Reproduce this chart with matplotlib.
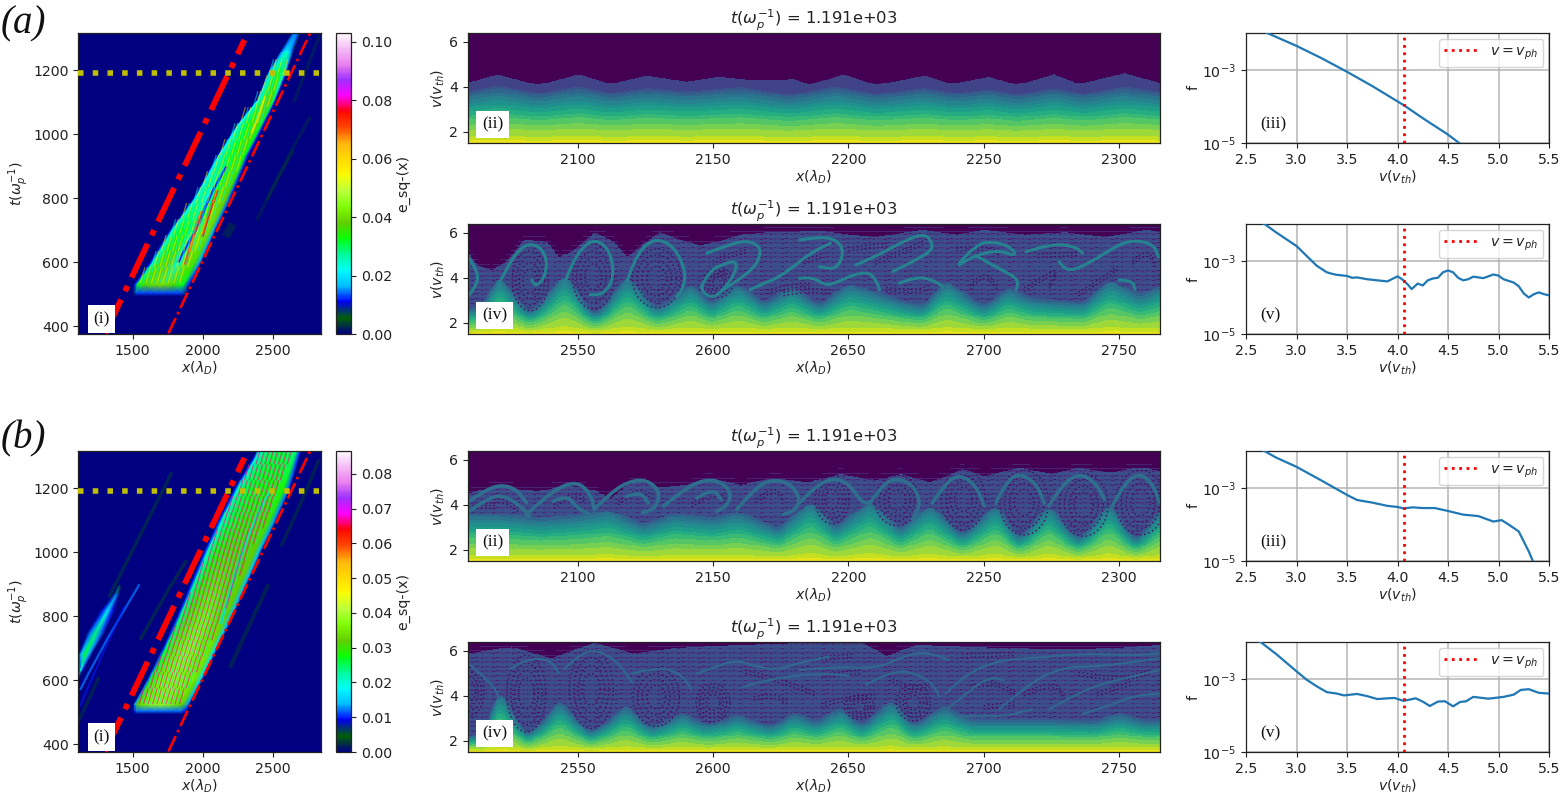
import numpy as np
import matplotlib
matplotlib.use("Agg")
import matplotlib.pyplot as plt
from matplotlib.cm import ScalarMappable
from matplotlib.collections import LineCollection
from matplotlib.colors import Normalize
from matplotlib.patches import Arc, PathPatch
from matplotlib.path import Path

W, H = 1559, 794

# ---- velocity distributions: log10(f) against v ----
a3_v = [2.5, 2.72, 3.0, 3.25, 3.5, 3.75, 4.0, 4.06, 4.25, 4.5, 4.61, 4.7]
a3_logf = [-1.7, -2.0, -2.34, -2.68, -3.05, -3.44, -3.86, -3.96, -4.32, -4.77, -5.0, -5.2]
a5_v = [2.5, 2.69, 2.8, 3.0, 3.1, 3.2, 3.3, 3.35, 3.4, 3.5, 3.55, 3.6, 3.7, 3.8, 3.9, 3.95, 4.0, 4.05, 4.1,
        4.14, 4.2, 4.25, 4.3, 4.35, 4.4, 4.45, 4.5, 4.55, 4.6, 4.65, 4.7, 4.75, 4.85, 4.95, 5.0, 5.05, 5.15,
        5.2, 5.25, 5.3, 5.35, 5.4, 5.45, 5.5]
a5_logf = [-1.75, -2.0, -2.22, -2.59, -2.86, -3.13, -3.31, -3.35, -3.38, -3.41, -3.46, -3.45, -3.5, -3.53,
           -3.56, -3.49, -3.42, -3.51, -3.64, -3.77, -3.62, -3.67, -3.53, -3.48, -3.46, -3.31, -3.26, -3.31,
           -3.46, -3.53, -3.5, -3.43, -3.47, -3.37, -3.4, -3.5, -3.59, -3.69, -3.89, -4.0, -3.91, -3.86,
           -3.91, -3.94]
b3_v = [2.5, 2.69, 2.8, 3.0, 3.25, 3.5, 3.6, 3.75, 3.9, 4.0, 4.06, 4.15, 4.25, 4.37, 4.5, 4.65, 4.8, 4.95,
        5.03, 5.1, 5.2, 5.3, 5.34, 5.4]
b3_logf = [-1.75, -2.0, -2.17, -2.42, -2.8, -3.19, -3.33, -3.4, -3.49, -3.52, -3.56, -3.53, -3.55, -3.55,
           -3.63, -3.73, -3.77, -3.92, -3.88, -4.0, -4.19, -4.74, -5.0, -5.5]
b5_v = [2.5, 2.65, 2.8, 3.0, 3.1, 3.2, 3.3, 3.4, 3.47, 3.6, 3.7, 3.8, 3.9, 3.97, 4.06, 4.18, 4.25, 4.32,
        4.4, 4.47, 4.55, 4.62, 4.68, 4.75, 4.9, 5.05, 5.15, 5.22, 5.3, 5.4, 5.5]
b5_logf = [-1.8, -2.0, -2.32, -2.79, -3.02, -3.2, -3.36, -3.4, -3.45, -3.41, -3.47, -3.55, -3.53, -3.52,
           -3.6, -3.53, -3.62, -3.74, -3.62, -3.61, -3.75, -3.63, -3.61, -3.49, -3.54, -3.49, -3.43, -3.3,
           -3.28, -3.38, -3.4]
v_phase = 4.06

# ---- phase-space panels: lower edge of the trapped region and upper edge of the populated region ----
a2_floor_x = [2059, 2070, 2085, 2100, 2112, 2125, 2140, 2160, 2178, 2195, 2210, 2228, 2240, 2252, 2262, 2276, 2287, 2302, 2315]
a2_floor_v = [3.55, 3.72, 3.5, 3.7, 3.5, 3.65, 3.55, 3.68, 3.45, 3.7, 3.48, 3.65, 3.5, 3.62, 3.45, 3.65, 3.48, 3.7, 3.55]
a2_top_x = [2059, 2070, 2085, 2100, 2112, 2125, 2140, 2152, 2165, 2180, 2185, 2198, 2210, 2228, 2238, 2252, 2262, 2276, 2285, 2302, 2315]
a2_top_v = [4.2, 4.55, 4.1, 4.55, 4.15, 4.5, 4.25, 4.45, 4.3, 4.35, 4.1, 4.55, 4.1, 4.5, 4.15, 4.45, 4.1, 4.55, 4.15, 4.6, 4.2]

a4_floor_x = [2509, 2513, 2520.7, 2532, 2545, 2556, 2568, 2579, 2591.5, 2599, 2609, 2618.6, 2629, 2639, 2650, 2660, 2677, 2686, 2700, 2709, 2717, 2737, 2746.5, 2757.6, 2765]
a4_floor_v = [2.65, 2.7, 3.9, 2.5, 4.0, 2.4, 3.9, 2.7, 3.6, 2.95, 3.6, 2.95, 3.5, 2.87, 3.6, 3.3, 2.8, 3.7, 2.8, 3.45, 3.1, 2.95, 3.75, 3.2, 3.5]
a4_top_x = [2509, 2513, 2518, 2524, 2530, 2538, 2543, 2548, 2556, 2563, 2568, 2574, 2580, 2590, 2595, 2610, 2620, 2640, 2650, 2660, 2677, 2690, 2700, 2715, 2730, 2745, 2760, 2765]
a4_top_v = [5.1, 4.5, 4.3, 4.8, 5.7, 5.6, 4.9, 5.2, 6.0, 5.6, 4.9, 5.5, 6.0, 5.6, 5.4, 5.9, 6.0, 6.05, 5.9, 5.8, 6.1, 5.9, 6.1, 5.9, 6.0, 5.8, 6.1, 6.0]

b2_floor_x = [2059, 2070, 2086, 2100, 2111, 2124, 2135, 2150, 2159, 2174, 2186, 2195, 2208, 2219, 2230, 2242, 2254.6, 2263, 2274, 2285, 2296.5, 2306, 2315]
b2_floor_v = [3.5, 3.5, 3.35, 3.45, 3.65, 3.13, 3.5, 3.35, 3.57, 3.0, 4.0, 3.05, 4.0, 2.98, 3.87, 2.76, 3.87, 2.6, 3.87, 2.53, 3.94, 2.5, 3.65]
b2_top_x = [2059, 2070, 2085, 2095, 2105, 2112, 2120, 2130, 2140, 2148, 2160, 2172, 2185, 2197, 2210, 2219, 2230, 2242, 2250, 2263, 2275, 2285, 2297, 2308, 2315]
b2_top_v = [4.5, 4.85, 4.6, 4.9, 4.7, 4.3, 5.1, 4.8, 4.9, 5.2, 4.9, 5.2, 5.0, 5.4, 5.1, 5.4, 5.0, 5.6, 5.3, 5.65, 5.4, 5.65, 5.45, 5.7, 5.5]

b4_floor_x = [2509, 2514, 2520.7, 2531, 2543, 2554.6, 2567.5, 2577, 2588.4, 2597.7, 2609, 2621, 2629.6, 2638, 2647, 2654.7, 2665.8, 2674, 2685, 2695, 2708, 2724.6, 2740.3, 2750, 2761, 2765]
b4_floor_v = [2.2, 2.34, 4.1, 2.3, 3.67, 2.42, 3.5, 2.64, 3.23, 2.79, 3.16, 2.7, 3.23, 2.93, 3.4, 2.79, 3.67, 2.79, 3.45, 3.0, 3.0, 3.0, 2.93, 3.2, 2.93, 3.0]
b4_top_x = [2509, 2525, 2540, 2556, 2570, 2590, 2610, 2640, 2655, 2664, 2675, 2700, 2720, 2740, 2765]
b4_top_v = [5.9, 6.2, 5.7, 6.4, 5.9, 6.2, 6.3, 6.4, 6.4, 5.8, 6.3, 6.2, 6.1, 6.1, 6.3]

# ---- bright filaments in phase space, as (x, v) vertices ----
a4_filaments = [
    [(2509.3, 4.95), (2512, 4.5), (2513.3, 3.98), (2511.4, 3.47), (2509.3, 3.17)],
    [(2520.7, 3.69), (2524.4, 4.58), (2528.1, 5.24), (2532.4, 5.54), (2536.7, 5.32), (2538.8, 4.65), (2537.3, 3.91), (2534.2, 3.62), (2533, 3.91)],
    [(2545.3, 3.84), (2548.4, 4.8), (2552.7, 5.47), (2556.4, 5.69), (2560.7, 5.39), (2563.2, 4.58), (2562.6, 3.76), (2558.9, 3.25), (2554.6, 3.25)],
    [(2568.1, 3.84), (2571.2, 4.87), (2575.5, 5.54), (2580.4, 5.73), (2586, 5.32), (2589.7, 4.36), (2589.3, 3.62), (2586.6, 3.17)],
    [(2595.8, 3.62), (2598.3, 4.28), (2603.8, 4.62), (2608.8, 4.77), (2608.2, 4.21), (2603.8, 3.47), (2600.1, 3.1), (2596.4, 3.32), (2595.8, 3.62)],
    [(2597.7, 5.1), (2603.8, 5.39), (2612.5, 5.69), (2617.4, 5.39), (2617.4, 4.95), (2614.9, 4.43), (2609.4, 3.91), (2603.8, 3.47)],
    [(2613.7, 3.47), (2617.4, 3.69), (2623.6, 3.98), (2629.7, 4.5), (2635.9, 5.1), (2643.3, 5.54)],
    [(2632, 5.69), (2639.3, 5.84), (2646, 5.69), (2648.5, 5.1), (2645.4, 4.36), (2639.3, 4.5)],
    [(2652.8, 4.58), (2660.2, 4.95), (2668.8, 5.54), (2677.5, 5.98), (2680.6, 5.69), (2681.2, 5.24), (2675, 4.8), (2666.4, 4.28)],
    [(2632, 3.98), (2636.8, 4.06), (2641.7, 3.62), (2647.9, 3.91), (2651.6, 4.13), (2657.8, 4.28), (2660.8, 3.76), (2661.5, 3.47)],
    [(2668.8, 3.76), (2675, 4.06), (2681.2, 3.91), (2684.9, 3.62)],
    [(2691, 4.65), (2697.2, 5.54), (2704.6, 5.61), (2710.7, 5.32), (2712, 4.95), (2705.8, 5.24), (2697.2, 5.02), (2691, 4.58)],
    [(2697, 5.0), (2702, 4.65), (2708, 4.28), (2713, 3.91), (2712, 3.47)],
    [(2715.7, 5.17), (2725.5, 5.54), (2734, 5.39), (2736.6, 5.1)],
    [(2728, 4.72), (2730.4, 4.21), (2739, 4.65), (2746.5, 5.24), (2753.9, 5.69), (2762.5, 5.54), (2764.7, 4.95)],
    [(2750, 3.9), (2755, 3.9), (2756, 3.47)],
]
b2_filaments = [
    [(2059, 4.1), (2066, 4.68), (2072, 4.9), (2077.5, 4.68), (2081, 4.1)],
    [(2059, 3.65), (2066, 4.24), (2072, 4.46), (2079, 3.94), (2082, 3.5)],
    [(2081, 3.57), (2087, 4.24), (2094.7, 4.9), (2101, 4.98), (2105, 4.38), (2106, 3.87)],
    [(2091, 4.16), (2096, 4.46), (2099.6, 3.87), (2104.5, 3.57)],
    [(2106, 3.79), (2112, 4.53), (2119, 5.05), (2125.5, 5.12), (2130.4, 4.6), (2129, 3.87), (2124, 3.64)],
    [(2118, 4.38), (2123, 4.6), (2126, 4.09)],
    [(2131.7, 3.94), (2139, 4.68), (2146.5, 5.12), (2152.6, 5.05), (2157, 4.53), (2155, 3.94), (2151.4, 3.72)],
    [(2144, 4.3), (2150, 4.75), (2153, 4.24)],
    [(2158.8, 3.8), (2165, 4.68), (2171, 5.12), (2178, 5.0), (2182, 4.38), (2181, 3.8), (2176, 3.57)],
    [(2182, 4.09), (2187, 4.75), (2194, 5.2), (2200, 4.98), (2205, 4.1), (2208, 4.1)],
    [(2208, 4.09), (2212.7, 4.9), (2217.6, 5.2), (2223.8, 4.9), (2226.9, 4.09), (2223.8, 3.35)],
    [(2231, 4.09), (2236, 4.98), (2241, 5.35), (2247, 4.9), (2250.3, 3.94)],
    [(2254.6, 4.09), (2258, 4.98), (2263, 5.42), (2269.4, 4.98), (2272.4, 4.09)],
    [(2274, 3.94), (2279, 4.9), (2285.4, 5.42), (2291.5, 4.98), (2294.6, 4.24)],
    [(2297, 3.8), (2300.8, 4.75), (2307, 5.45), (2312.5, 4.98), (2315, 4.09)],
]
b4_filaments = [
    [(2525, 5.2), (2532, 5.7), (2540, 5.6), (2543, 5.0)],
    [(2545, 5.2), (2552, 6.0), (2558, 6.0), (2565, 5.5), (2570, 4.6)],
    [(2570, 5.0), (2580, 5.3), (2588, 5.0), (2592, 4.3)],
    [(2594, 5.0), (2601, 5.3), (2609, 5.6), (2616, 5.3), (2624, 5.16), (2631, 5.45), (2643, 5.75)],
    [(2632, 5.15), (2644, 5.3), (2660, 5.23), (2667.6, 5.6), (2673.8, 5.9), (2681, 5.9), (2687, 5.6)],
    [(2686, 4.1), (2693.5, 5.0), (2706, 5.6), (2718, 5.67), (2736.6, 5.9), (2755, 5.8), (2765, 5.9)],
    [(2656.5, 4.5), (2666.4, 5.15), (2675, 5.0), (2681, 4.56), (2683.6, 3.97)],
    [(2705.8, 3.4), (2718, 4.7), (2730.5, 5.3), (2742.8, 5.3), (2765, 5.67)],
    [(2724.3, 3.4), (2736.6, 4.27), (2749, 4.7), (2765, 5.15)],
    [(2736.6, 3.2), (2745.2, 3.5), (2755, 4.0), (2765, 4.1)],
    [(2686.6, 3.4), (2695, 4.27), (2702.4, 4.85), (2707.3, 4.7)],
    [(2690, 3.1), (2700, 3.1), (2708, 3.1), (2717.7, 3.4)],
    [(2509, 5.5), (2514, 5.0), (2519, 4.4), (2521, 3.9)],
    [(2611, 4.4), (2622, 4.8), (2640, 5.0), (2650, 4.9)],
]

# ---- trapped-particle vortices: centre x, centre v, half-width, half-height ----
a4_vortices = [(2532.4, 3.87, 7.4, 1.48), (2555.8, 4.05, 8.6, 1.6), (2579.2, 3.98, 10, 1.45), (2602, 3.8, 6, 0.75)]
b2_vortices = [(2194, 4.24, 7, 1.2), (2218, 4.2, 9, 1.25), (2242.5, 4.25, 9, 1.5), (2265, 4.1, 10, 1.6), (2287, 4.0, 10, 1.55), (2308, 4.1, 10, 1.6)]
b4_vortices = [(2510, 4.2, 6, 1.2), (2531, 4.1, 8, 1.9), (2555, 4.3, 9, 1.95), (2579, 3.95, 9.5, 1.45), (2600, 3.7, 7, 0.95),
               (2674, 3.7, 7, 0.9), (2654, 3.5, 6, 0.6)]

# ---- depleted streaks inside the trapped region, as (x, v) vertices ----
a4_holes = [
    [(2600, 3.9), (2605, 4.25)], [(2612, 5.1), (2604, 4.9), (2600, 4.6)], [(2620, 3.3), (2630, 3.6), (2636, 3.6)],
    [(2650, 5.2), (2665, 5.4)], [(2660, 4.6), (2672, 5.2), (2678, 5.5)], [(2664, 3.4), (2675, 3.3), (2680, 3.5)],
    [(2695, 3.5), (2700, 4.2), (2705, 3.5)], [(2715, 3.4), (2722, 3.9), (2728, 4.3), (2724, 3.5)],
    [(2735, 3.2), (2742, 3.7), (2750, 4.4)], [(2755, 4.6), (2760, 5.2), (2764, 4.4)], [(2720, 4.9), (2735, 5.0)],
    [(2640, 4.9), (2633, 4.6)], [(2690, 5.2), (2700, 5.3), (2706, 5.0)], [(2626, 3.2), (2634, 3.4), (2644, 3.3)],
]
b2_holes = [
    [(2066, 4.05), (2072, 4.2), (2078, 3.7)], [(2091, 3.85), (2098, 4.5), (2103, 4.1)], [(2115, 4.0), (2121, 4.6), (2128, 4.3)],
    [(2142, 3.9), (2149, 4.5), (2155, 4.15)], [(2166, 4.1), (2172, 4.7), (2176, 4.2)], [(2061, 3.85), (2070, 3.85)],
]
b4_holes = [
    [(2612, 5.0), (2625, 4.6), (2638, 4.0)], [(2615, 3.8), (2622, 4.0), (2628, 3.6)], [(2640, 4.8), (2655, 5.0)],
    [(2665, 4.7), (2672, 4.2), (2680, 4.4)], [(2695, 4.3), (2703, 4.6), (2712, 4.0)], [(2715, 4.0), (2726, 4.6), (2730, 3.8)],
    [(2735, 4.9), (2750, 4.6), (2762, 5.0)], [(2742, 4.0), (2755, 4.5)], [(2640, 3.5), (2648, 3.8), (2660, 3.9)],
    [(2700, 3.4), (2712, 3.6)], [(2640, 5.6), (2652, 5.7)], [(2692, 5.7), (2712, 5.8)],
]

# level of the distribution on the unperturbed velocity axis
profile_v = [1.5, 1.7, 2.0, 2.5, 3.0, 3.4, 3.85, 4.5]
profile_level = [0.97, 0.90, 0.84, 0.72, 0.56, 0.42, 0.25, 0.2]
# grid-scale striping of the sparsely sampled trapped population
interior_tile = [
    [.25, .25, .25, .25, .25, .25, .25, .25, .25, .25, .25, .25, .25, .25],
    [.24, .24, .24, .22, .22, .24, .24, .24, .24, .24, .21, .24, .24, .24],
    [.21, .21, .09, .09, .21, .21, .21, .21, .21, .09, .21, .21, .21, .21],
    [.18, .18, .18, .18, .18, .08, .08, .18, .18, .18, .18, .18, .08, .18],
    [.24, .24, .24, .24, .24, .24, .24, .24, .24, .24, .24, .24, .24, .24],
]

# ---- energy maps: outer edges of the wave packet and its level across the packet ----
pkt_frac = [0, 0.025, 0.07, 0.2, 0.4, 0.55, 0.7, 0.88, 0.97, 1]
a_t = [495, 505, 530, 600, 700, 800, 930, 1029, 1107, 1196, 1260, 1316]
a_left = [1500, 1500, 1505, 1620, 1760, 1930, 2095, 2240, 2386, 2469, 2560, 2640]
a_right = [1885, 1890, 1910, 1990, 2090, 2200, 2325, 2440, 2525, 2605, 2650, 2695]
a_level = [
    [0, 0, 0, 0, 0, 0, 0, 0, 0, 0],
    [0, .008, .013, .013, .013, .013, .013, .013, .008, 0],
    [0, .012, .032, .037, .040, .040, .037, .032, .012, 0],
    [0, .012, .026, .036, .038, .024, .040, .036, .016, 0],
    [0, .010, .024, .032, .032, .026, .042, .040, .016, 0],
    [0, .010, .022, .028, .022, .032, .040, .038, .014, 0],
    [0, .010, .022, .028, .032, .034, .036, .032, .012, 0],
    [0, .010, .022, .028, .032, .034, .038, .032, .012, 0],
    [0, .010, .022, .028, .036, .038, .038, .030, .012, 0],
    [0, .010, .018, .026, .030, .032, .032, .022, .010, 0],
    [0, .008, .014, .018, .022, .022, .018, .014, .008, 0],
    [0, .007, .010, .013, .014, .014, .013, .010, .007, 0],
]
b_t = [495, 505, 525, 600, 700, 800, 900, 1000, 1100, 1200, 1316]
b_left = [1500, 1500, 1505, 1600, 1710, 1814, 1910, 2005, 2110, 2225, 2386]
b_right = [1885, 1890, 1905, 1995, 2105, 2215, 2315, 2415, 2525, 2625, 2705]
b_level = [
    [0, 0, 0, 0, 0, 0, 0, 0, 0, 0],
    [0, .009, .012, .012, .012, .012, .012, .012, .009, 0],
    [0, .013, .032, .036, .038, .038, .036, .032, .013, 0],
    [0, .012, .030, .036, .038, .038, .037, .034, .016, 0],
    [0, .010, .026, .034, .038, .039, .036, .034, .016, 0],
    [0, .010, .024, .032, .036, .037, .034, .032, .014, 0],
    [0, .010, .022, .030, .034, .034, .032, .032, .014, 0],
    [0, .010, .020, .028, .032, .032, .032, .032, .014, 0],
    [0, .010, .020, .026, .030, .030, .032, .030, .013, 0],
    [0, .010, .020, .026, .028, .028, .030, .028, .012, 0],
    [0, .010, .018, .024, .026, .026, .026, .024, .010, 0],
]
# detached packet at the left edge of map (b)
b2_t = [610, 630, 680, 750, 820, 870, 895]
b2_left = [1111, 1111, 1111, 1175, 1270, 1360, 1395]
b2_right = [1118, 1145, 1205, 1300, 1375, 1410, 1415]
b2_frac = [0, 0.2, 0.5, 0.8, 1]
b2_level = [
    [0, .005, .008, .005, 0],
    [0, .010, .020, .010, 0],
    [0, .014, .026, .014, 0],
    [0, .012, .024, .012, 0],
    [0, .010, .018, .010, 0],
    [0, .007, .012, .007, 0],
    [0, .003, .005, .003, 0],
]
# streaks of the energy maps: (level, width, opacity, (x, t) vertices)
a_streaks = [
    (.012, 1.8, .9, [(1826, 600), (1880, 650), (1957, 700), (2040, 800), (2170, 900)]),
    (.072, 2.0, .8, [(1874, 593), (1910, 645), (1957, 718), (1993, 760)]),
    (.076, 2.0, .8, [(1998, 680), (2045, 753), (2105, 826)]),
    (.058, 1.6, .7, [(2350, 1003), (2400, 1060), (2445, 1118)]),
    (.004, 2.5, .35, [(2386, 731), (2520, 850), (2648, 951)]),
    (.004, 2.5, .35, [(2457, 795), (2610, 930), (2767, 1055)]),
    (.004, 2.5, .35, [(2650, 1100), (2760, 1225), (2835, 1310)]),
    (.004, 6.0, .45, [(2165, 680), (2215, 720)]),
]
b_streaks = [
    (.016, 1.6, .8, [(2130, 775), (2250, 970), (2400, 1130), (2480, 1190)]),
    (.012, 1.6, .8, [(1124, 570), (1243, 675), (1548, 900)]),
    (.010, 1.4, .6, [(1124, 520), (1280, 680), (1440, 830)]),
    (.005, 2.5, .4, [(1552, 726), (1720, 860), (1886, 976)]),
    (.005, 2.5, .4, [(1330, 860), (1560, 1060), (1780, 1250)]),
    (.004, 3.0, .4, [(2195, 640), (2330, 770), (2470, 900)]),
    (.004, 2.5, .4, [(2560, 1020), (2700, 1150), (2830, 1290)]),
    (.004, 2.5, .4, [(1111, 470), (1260, 610)]),
]
# rows of the fine herring-bone texture inside each packet
a_texture_rows = [535, 585, 635, 685, 735, 785, 835, 885, 935, 985, 1035, 1085, 1135, 1185]
b_texture_rows = [525, 575, 625, 675, 725, 775, 825, 875, 925, 975, 1025, 1075, 1125, 1175, 1225, 1275]

tick_v = [2, 4, 6]
tick_t = [400, 600, 800, 1000, 1200]
tick_x_map = [1500, 2000, 2500]
tick_v_dist = [2.5, 3.0, 3.5, 4.0, 4.5, 5.0, 5.5]
t_slice = 1191
title_text = r"$t(\omega_p^{-1})$ = 1.191e+03"

plt.rcParams.update({"font.family": "DejaVu Sans", "font.size": 10.2, "mathtext.fontset": "dejavusans",
                     "axes.linewidth": 0.9, "axes.edgecolor": "#222222",
                     "xtick.color": "#222222", "ytick.color": "#222222", "text.color": "#222222",
                     "axes.labelcolor": "#222222"})
fig = plt.figure(figsize=(W / 100, H / 100), dpi=100, facecolor="white")


def place(x0, x1, y0, y1):
    return fig.add_axes([x0 / W, 1 - y1 / H, (x1 - x0) / W, (y1 - y0) / H])


def curve(pts):
    """Smooth open curve through the midpoints of a vertex list."""
    pts = np.asarray(pts, float)
    verts = [pts[0]]
    codes = [Path.MOVETO]
    for i in range(1, len(pts) - 1):
        verts += [pts[i], (pts[i] + pts[i + 1]) / 2]
        codes += [Path.CURVE3, Path.CURVE3]
    verts.append(pts[-1])
    codes.append(Path.LINETO)
    return Path(verts, codes)


def phase_panel(ax, xlim, fx, fv, tx, tv, filaments, vortices, holes, label, striped=True, fil_level=0.44, fil_lw=2.2):
    xs = np.linspace(xlim[0], xlim[1], 470)
    vs = np.linspace(1.5, 6.4, 120)
    raw = np.interp(xs, fx, fv)
    kernel = np.ones(7) / 7
    floor = np.convolve(raw, kernel, mode="same")
    floor[:3] = raw[:3]
    floor[-3:] = raw[-3:]
    top = np.interp(xs, tx, tv)
    tile = np.asarray(interior_tile)
    field = np.zeros((vs.size, xs.size))
    for j in range(xs.size):
        eff = floor[j] + 0.5 * max(0.0, floor[j] - 3.0)
        v_eff = 1.5 + (vs - 1.5) * 2.35 / (eff - 1.5)
        col = np.interp(v_eff, profile_v, profile_level)
        # contour bands of the distribution
        col = np.where(col > 0.26, np.floor(col * 17) / 17 + 0.03, 0.0)
        if striped:
            col[vs > floor[j] + 0.1] = 0.0
        inner = col == 0.0
        below_top = vs <= top[j]
        if striped:
            stripes = tile[np.arange(vs.size) % tile.shape[0], j % tile.shape[1]]
        else:
            stripes = np.full(vs.size, 0.2)
        col = np.where(inner & below_top, stripes, col)
        if striped:
            # faint grid-scale rows just above the populated edge
            fringe = inner & ~below_top & (vs <= top[j] + 0.25)
            col = np.where(fringe & (np.arange(vs.size) % 5 == 0), 0.1, col)
        field[:, j] = col
    ax.imshow(field, origin="lower", aspect="auto", extent=(xlim[0], xlim[1], 1.5, 6.4),
              cmap="viridis", vmin=0, vmax=1, interpolation="nearest")
    cm = plt.get_cmap("viridis")
    for cx, cv, rx, rv in vortices:
        for scale in (0.9, 0.72, 0.54, 0.36):
            ax.add_patch(Arc((cx, cv), 2 * rx * scale, 2 * rv * scale, lw=1.0, ec=cm(0.03),
                             ls=(0, (1.2, 1.9)), alpha=0.9))
    for pts in holes:
        for shift in (0.0, 0.16):
            shifted = np.asarray(pts, float) + [0, shift]
            ax.add_patch(PathPatch(curve(shifted), fc="none", ec=cm(0.03), lw=1.0, ls=(0, (1.2, 1.8)), alpha=0.9))
    for pts in filaments:
        ax.add_patch(PathPatch(curve(pts), fc="none", ec=cm(fil_level), lw=fil_lw, capstyle="round", joinstyle="round"))
    ax.set_xlim(*xlim)
    ax.set_ylim(1.5, 6.4)
    ax.set_yticks(tick_v)
    ax.set_xlabel(r"$x(\lambda_D)$", labelpad=1.5)
    ax.set_ylabel(r"$v(v_{th})$", labelpad=1.5)
    ax.set_title(title_text, fontsize=11.8, pad=4)
    ax.text(0.0205, 0.17, label, transform=ax.transAxes, family="Liberation Serif", fontsize=12.5,
            ha="left", va="center", color="#111111",
            bbox=dict(boxstyle="square,pad=0.32", fc="white", ec="none"))


def packet(ax, norm, cmap, ts, left, right, frac, level):
    ts = np.asarray(ts, float)
    left, right, frac = np.asarray(left, float), np.asarray(right, float), np.asarray(frac, float)
    X = left[:, None] + (right - left)[:, None] * frac[None, :]
    T = np.repeat(ts[:, None], frac.size, axis=1)
    ax.pcolormesh(X, T, np.asarray(level, float), shading="gouraud", cmap=cmap, norm=norm, rasterized=True)


def texture(ax, norm, cmap, rows, ts, left, right, hi, lo, alpha, step):
    segments, colors = [], []
    for k, t0 in enumerate(rows):
        l0 = np.interp(t0, ts, left)
        r0 = np.interp(t0, ts, right)
        for n, x0 in enumerate(np.arange(l0 + 0.1 * (r0 - l0), r0 - 0.16 * (r0 - l0), step)):
            segments.append([(x0, t0), (x0 + 34, t0 + 50)])
            colors.append(cmap(norm(hi if (n + k) % 2 == 0 else lo)))
    ax.add_collection(LineCollection(segments, colors=colors, linewidths=0.9, alpha=alpha, capstyle="butt"))


def streaks(ax, norm, cmap, table):
    for level, width, opacity, pts in table:
        ax.add_patch(PathPatch(curve(pts), fc="none", ec=cmap(norm(level)), lw=width, alpha=opacity))


def map_panel(ax, cax, vmax, cbar_ticks, draw):
    cmap = plt.get_cmap("gist_ncar")
    norm = Normalize(0, vmax)
    ax.set_facecolor(cmap(0.0))
    draw(ax, norm, cmap)
    ax.plot([1302, 2298], [378, 1295], color="red", lw=4.2, ls="-.", zorder=5)
    ax.plot([1755, 2767], [378, 1316], color="red", lw=1.9, ls="-.", zorder=5)
    ax.plot([1111, 2830], [t_slice, t_slice], color="y", lw=4, ls=":", zorder=6)
    ax.set_xlim(1111, 2845)
    ax.set_ylim(376, 1316.6)
    ax.set_xticks(tick_x_map)
    ax.set_yticks(tick_t)
    ax.set_xlabel(r"$x(\lambda_D)$", labelpad=1.5)
    ax.set_ylabel(r"$t(\omega_p^{-1})$", labelpad=1.5)
    ax.text(0.095, 0.05, "(i)", transform=ax.transAxes, family="Liberation Serif", fontsize=12.5,
            ha="center", va="center", color="#111111", zorder=8,
            bbox=dict(boxstyle="square,pad=0.32", fc="white", ec="none"))
    cb = fig.colorbar(ScalarMappable(norm=norm, cmap=cmap), cax=cax)
    cb.set_ticks(cbar_ticks)
    cb.ax.set_yticklabels([f"{c:.2f}" for c in cbar_ticks])
    cb.set_label("e_sq-(x)", labelpad=3)
    cb.outline.set_linewidth(0.9)


def draw_a(ax, norm, cmap):
    packet(ax, norm, cmap, a_t, a_left, a_right, pkt_frac, a_level)
    texture(ax, norm, cmap, a_texture_rows, a_t, a_left, a_right, 0.056, 0.022, 0.5, 20.0)
    streaks(ax, norm, cmap, a_streaks)


def draw_b(ax, norm, cmap):
    packet(ax, norm, cmap, b_t, b_left, b_right, pkt_frac, b_level)
    packet(ax, norm, cmap, b2_t, b2_left, b2_right, b2_frac, b2_level)
    texture(ax, norm, cmap, b_texture_rows, b_t, b_left, b_right, 0.066, 0.024, 0.6, 16.0)
    streaks(ax, norm, cmap, b_streaks)


def dist_panel(ax, v, logf, label):
    ax.semilogy(v, 10.0 ** np.asarray(logf), color="#1f77b4", lw=1.6, zorder=3)
    ax.axvline(v_phase, ymax=0.97, color="red", ls=":", lw=2, label=r"$v = v_{ph}$", zorder=4)
    ax.set_xlim(2.5, 5.5)
    ax.set_ylim(1e-5, 1.03e-2)
    ax.set_xticks(tick_v_dist)
    ax.set_yticks([1e-5, 1e-3])
    ax.minorticks_off()
    ax.grid(True, color="#b4b4b4", lw=1.1)
    ax.set_xlabel(r"$v(v_{th})$", labelpad=1.5)
    ax.set_ylabel("f", labelpad=1.5)
    ax.legend(loc="upper right", fontsize=10.2, handlelength=2.4, borderaxespad=0.4)
    ax.text(0.047, 0.17, label, transform=ax.transAxes, family="Liberation Serif", fontsize=12.5,
            ha="left", va="center", color="#111111")


# ---- row (a) ----
map_panel(place(78.3, 321, 33, 334), place(336, 351, 33, 334), 0.103, [0, .02, .04, .06, .08, .10], draw_a)
phase_panel(place(467.7, 1160, 33, 143), (2059.3, 2315.2), a2_floor_x, a2_floor_v, a2_top_x, a2_top_v, [], [], [], "(ii)", striped=False)
phase_panel(place(467.7, 1160, 224, 334), (2509.3, 2765.2), a4_floor_x, a4_floor_v, a4_top_x, a4_top_v,
            a4_filaments, a4_vortices, a4_holes, "(iv)")
dist_panel(place(1246, 1549, 33, 143), a3_v, a3_logf, "(iii)")
dist_panel(place(1246, 1549, 224, 334), a5_v, a5_logf, "(v)")

# ---- row (b) ----
map_panel(place(78.3, 321, 451, 752), place(336, 351, 451, 752), 0.0866, [0, .01, .02, .03, .04, .05, .06, .07, .08], draw_b)
phase_panel(place(467.7, 1160, 451, 561), (2059.3, 2315.2), b2_floor_x, b2_floor_v, b2_top_x, b2_top_v,
            b2_filaments, b2_vortices, b2_holes, "(ii)", fil_level=0.36, fil_lw=2.6)
phase_panel(place(467.7, 1160, 642, 752), (2509.3, 2765.2), b4_floor_x, b4_floor_v, b4_top_x, b4_top_v,
            b4_filaments, b4_vortices, b4_holes, "(iv)", fil_level=0.33, fil_lw=1.6)
dist_panel(place(1246, 1549, 451, 561), b3_v, b3_logf, "(iii)")
dist_panel(place(1246, 1549, 642, 752), b5_v, b5_logf, "(v)")

fig.text(1 / W, 1 - 33 / H, "(a)", family="Liberation Serif", style="italic", fontsize=28, color="#111111", va="baseline")
fig.text(1 / W, 1 - 448 / H, "(b)", family="Liberation Serif", style="italic", fontsize=28, color="#111111", va="baseline")

fig.savefig("out.png", dpi=100, facecolor="white")
